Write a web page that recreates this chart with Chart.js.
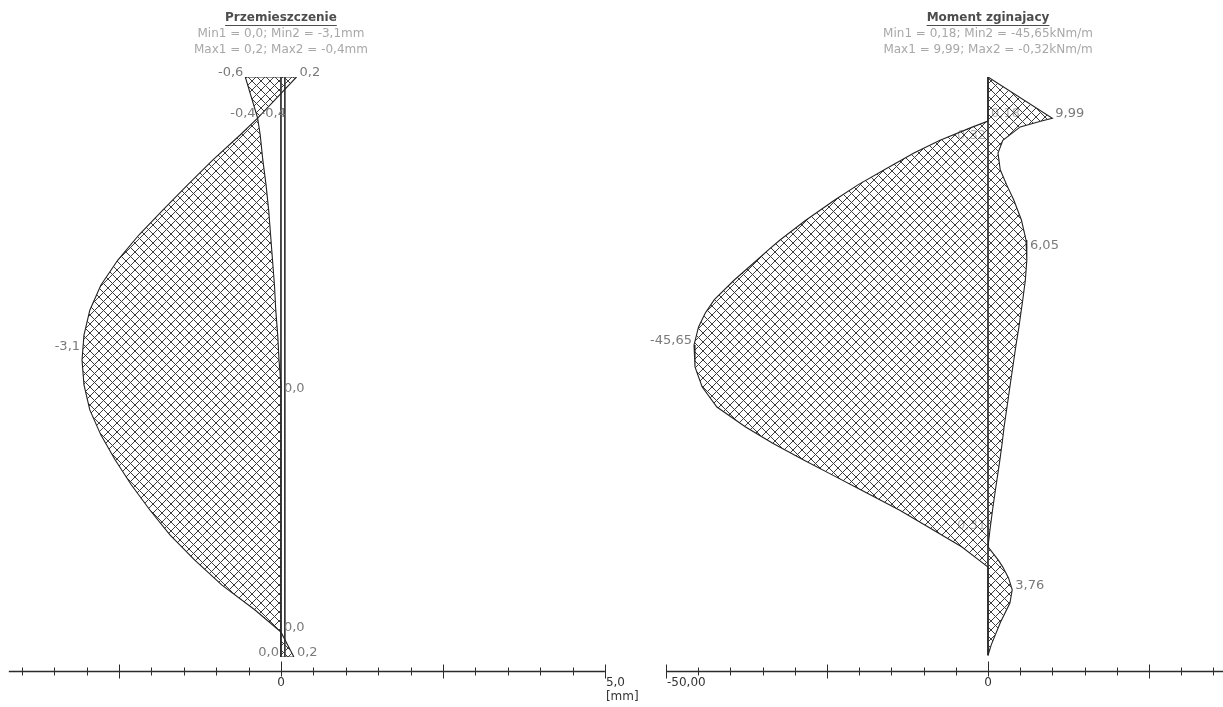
<!DOCTYPE html>
<html lang="pl">
<head>
<meta charset="utf-8">
<title>Przemieszczenie / Moment zginajacy</title>
<script src="https://cdn.jsdelivr.net/npm/chart.js@4.4.1/dist/chart.umd.min.js"></script>
<style>
    html, body { margin: 0; padding: 0; background: #fff; }
    body { position: relative; width: 1223px; height: 707px; overflow: hidden; }
    canvas { position: absolute; top: 0; }
    #dispChart { left: 0; }
    #momChart { left: 640px; }
</style>
</head>
<body>
<canvas id="dispChart" width="660" height="707"></canvas>
<canvas id="momChart" width="583" height="707"></canvas>
<script>
"use strict";

/* depth below the top of the wall [m] */
var dispDepth = [0, 0.71, 1.00, 1.43, 1.86, 2.29, 2.72, 3.16, 3.59, 4.02, 4.45, 4.88,
    5.31, 5.74, 6.17, 6.60, 7.03, 7.47, 7.90, 8.33, 8.76, 9.19, 9.57, 10.0];
/* displacement envelope [mm] */
var dispMin = [-0.55, -0.36, -0.63, -1.05, -1.44, -1.82, -2.19, -2.52, -2.78, -2.95, -3.04, -3.07,
    -3.04, -2.95, -2.78, -2.56, -2.31, -2.02, -1.71, -1.33, -0.91, -0.40, 0, 0];
var dispMax = [0.24, -0.36, -0.32, -0.28, -0.23, -0.19, -0.16, -0.13, -0.10, -0.08, -0.05, -0.03,
    0, 0, 0, 0, 0, 0, 0, 0, 0, 0, 0, 0.2];

var momDepth = [0, 0.71, 0.76, 0.86, 1.09, 1.31, 1.60, 1.86, 2.12, 2.47, 2.81, 2.98, 3.16, 3.50,
    3.84, 4.07, 4.31, 4.62, 5.00, 5.34, 5.69, 6.03, 6.31, 6.60, 6.86, 7.12, 7.47, 7.81,
    8.10, 8.33, 8.45, 8.64, 8.84, 9.07, 9.41, 9.79, 9.97];
/* bending moment envelope [kNm/m] */
var momMin = [0, 0, 0, -2.35, -7.45, -11.5, -16.1, -20.2, -23.8, -28.3, -32.3, -34.1, -35.9, -39.4,
    -42.5, -43.9, -44.95, -45.65, -45.5, -44.4, -42.1, -37.7, -33.5, -28.7, -24.2, -19.7, -13.7, -8.5,
    -4.1, -1.4, 0, 0, 0, 0, 0, 0, 0];
var momMax = [0, 9.99, 8.3, 5.0, 2.3, 1.55, 1.9, 2.9, 4.0, 5.2, 5.9, 6.05, 6.0, 5.8,
    5.4, 5.1, 4.8, 4.35, 3.85, 3.4, 2.95, 2.5, 2.2, 1.85, 1.5, 1.15, 0.7, 0.3,
    0, 1.6, 2.3, 3.2, 3.76, 3.4, 1.9, 0.5, 0];

/* value labels: text, value, depth */
var dispMinNotes = [['-0,6', -0.55, 0], ['-0,4', -0.36, 0.71], ['-3,1', -3.07, 4.72], ['0,0', 0, 10]];
var dispMaxNotes = [['0,2', 0.24, 0], ['-0,4', -0.36, 0.71], ['0,0', 0, 5.45], ['0,0', 0, 9.57], ['0,2', 0.2, 10]];
var momMinNotes = [['-45,65', -45.65, 4.62]];
var momMaxNotes = [['9,99', 9.99, 0.71], ['6,05', 6.05, 2.98], ['3,76', 3.76, 8.84]];
var momHiddenMin = [['-0,32', 0, 1.09], ['0,31', 0, 7.81]];
var momHiddenMax = [['0,18', 0, 0.71]];

/* horizontal axes */
var dispTicks = { from: -4.2, to: 5.0, step: 0.5, major: 2.5 };
var momTicks = { from: -50, to: 40, step: 5, major: 25 };
var dispAxisLabels = [['0', 0], ['5,0', 5.0]];
var momAxisLabels = [['0', 0], ['-50,00', -50]];

/* cross hatch fill */
function makeHatch() {
    var s = 9, c = document.createElement('canvas');
    c.width = s; c.height = s;
    var g = c.getContext('2d');
    g.strokeStyle = '#3c3c3c';
    g.lineWidth = 1;
    g.beginPath();
    [-s, 0, s].forEach(function (o) {
        g.moveTo(o, 0); g.lineTo(o + s, s);
        g.moveTo(s + o, 0); g.lineTo(o, s);
    });
    g.stroke();
    return g.createPattern(c, 'repeat');
}

function pts(vals, depth) {
    return vals.map(function (v, i) { return { x: v, y: depth[i] }; });
}

function drawNotes(chart, notes, side, color) {
    var ctx = chart.ctx, xs = chart.scales.x, ys = chart.scales.y;
    ctx.save();
    ctx.font = '13px "DejaVu Sans"';
    ctx.fillStyle = color;
    ctx.textBaseline = 'alphabetic';
    ctx.textAlign = side === 'min' ? 'right' : 'left';
    (notes || []).forEach(function (n) {
        var px = xs.getPixelForValue(n[1]) + (side === 'min' ? -2 : 3);
        var py = ys.getPixelForValue(n[2]) - 1;
        ctx.fillText(n[0], px, py);
    });
    ctx.restore();
}

var panelDecor = {
    id: 'panelDecor',
    beforeDatasetsDraw: function (chart, args, o) {
        drawNotes(chart, o.hiddenMin, 'min', '#b0b0b0');
        drawNotes(chart, o.hiddenMax, 'max', '#b0b0b0');
    },
    afterDatasetsDraw: function (chart, args, o) {
        drawNotes(chart, o.minNotes, 'min', '#7a7a7a');
        drawNotes(chart, o.maxNotes, 'max', '#7a7a7a');
    },
    afterDraw: function (chart, args, o) {
        var ctx = chart.ctx, xs = chart.scales.x, area = chart.chartArea;
        var cx = xs.getPixelForValue(0);
        ctx.save();
        /* title */
        ctx.textAlign = 'center';
        ctx.textBaseline = 'middle';
        ctx.font = 'bold 12px "DejaVu Sans"';
        ctx.fillStyle = '#4d4d4d';
        ctx.fillText(o.title, cx, 18);
        var w = ctx.measureText(o.title).width;
        ctx.fillRect(cx - w / 2, 25, w, 1);
        ctx.font = '12px "DejaVu Sans"';
        ctx.fillStyle = '#a8a8a8';
        o.lines.forEach(function (t, i) { ctx.fillText(t, cx, 34 + 16 * i); });

        /* axis with crossing ticks */
        var ax = o.axis, ay = Math.round(area.bottom + 14) + 0.5;
        ctx.strokeStyle = '#2b2b2b';
        ctx.lineWidth = 1.3;
        ctx.beginPath();
        ctx.moveTo(xs.getPixelForValue(ax.from), ay);
        ctx.lineTo(xs.getPixelForValue(ax.to), ay);
        ctx.stroke();
        ctx.lineWidth = 1;
        var first = Math.ceil(ax.from / ax.step - 1e-9);
        var last = Math.floor(ax.to / ax.step + 1e-9);
        ctx.beginPath();
        for (var k = first; k <= last; k++) {
            var v = k * ax.step;
            var px = Math.round(xs.getPixelForValue(v)) + 0.5;
            var isMajor = Math.abs(v / ax.major - Math.round(v / ax.major)) < 1e-6 || k === last;
            var up = isMajor ? 7 : 4, down = isMajor ? 7 : 4;
            if (v === 0) { up = 10; down = 5; }
            ctx.moveTo(px, ay - up);
            ctx.lineTo(px, ay + down);
        }
        ctx.stroke();

        ctx.font = '12px "DejaVu Sans"';
        ctx.fillStyle = '#333';
        ctx.textBaseline = 'top';
        o.axisLabels.forEach(function (l) {
            var px = xs.getPixelForValue(l[1]);
            ctx.textAlign = l[1] === 0 ? 'center' : 'left';
            ctx.fillText(l[0], l[1] === 0 ? px : px + 1, ay + 5);
            if (l[1] !== 0 && o.unit) {
                ctx.fillText(o.unit, px + 1, ay + 19);
            }
        });
        ctx.restore();
    }
};

function panelChart(id, depth, minVals, maxVals, xRange, extraLines, decor) {
    var hatch = makeHatch();
    var lineStyle = { borderColor: '#222', borderWidth: 1.1, pointRadius: 0, fill: false };
    var datasets = [
        Object.assign({}, lineStyle, { data: pts(minVals, depth), backgroundColor: hatch, fill: '+1' }),
        Object.assign({}, lineStyle, { data: pts(maxVals, depth) })
    ];
    extraLines.forEach(function (d) {
        datasets.push({ data: d, borderColor: '#333', borderWidth: 1, pointRadius: 0, fill: false });
    });
    return new Chart(document.getElementById(id).getContext('2d'), {
        type: 'line',
        data: { datasets: datasets },
        options: {
            indexAxis: 'y',
            responsive: false,
            animation: false,
            layout: { padding: { top: 77, bottom: 50, left: 0, right: 0 } },
            elements: { line: { tension: 0 } },
            plugins: {
                legend: { display: false },
                tooltip: { enabled: false },
                panelDecor: decor
            },
            scales: {
                x: { type: 'linear', display: false, min: xRange[0], max: xRange[1] },
                y: { type: 'linear', display: false, min: 0, max: 10, reverse: true }
            }
        },
        plugins: [panelDecor]
    });
}

var dTop = dispDepth[0], dBot = dispDepth[dispDepth.length - 1];
panelChart('dispChart', dispDepth, dispMin, dispMax, [-4.336, 5.85], [
    [{ x: 0, y: dTop }, { x: 0, y: dBot }],
    [{ x: 0.06, y: dTop }, { x: 0.06, y: dBot }],
    [{ x: dispMin[0], y: dTop }, { x: dispMax[0], y: dTop }],
    [{ x: dispMin[dispMin.length - 1], y: dBot }, { x: dispMax[dispMax.length - 1], y: dBot }]
], {
    title: 'Przemieszczenie',
    lines: ['Min1 = 0,0; Min2 = -3,1mm', 'Max1 = 0,2; Max2 = -0,4mm'],
    minNotes: dispMinNotes, maxNotes: dispMaxNotes,
    axis: dispTicks, axisLabels: dispAxisLabels, unit: '[mm]'
});

var mTop = momDepth[0], mBot = momDepth[momDepth.length - 1];
panelChart('momChart', momDepth, momMin, momMax, [-54.04, 36.49], [
    [{ x: 0, y: mTop }, { x: 0, y: mBot }]
], {
    title: 'Moment zginajacy',
    lines: ['Min1 = 0,18; Min2 = -45,65kNm/m', 'Max1 = 9,99; Max2 = -0,32kNm/m'],
    minNotes: momMinNotes, maxNotes: momMaxNotes,
    hiddenMin: momHiddenMin, hiddenMax: momHiddenMax,
    axis: momTicks, axisLabels: momAxisLabels, unit: ''
});
</script>
</body>
</html>
